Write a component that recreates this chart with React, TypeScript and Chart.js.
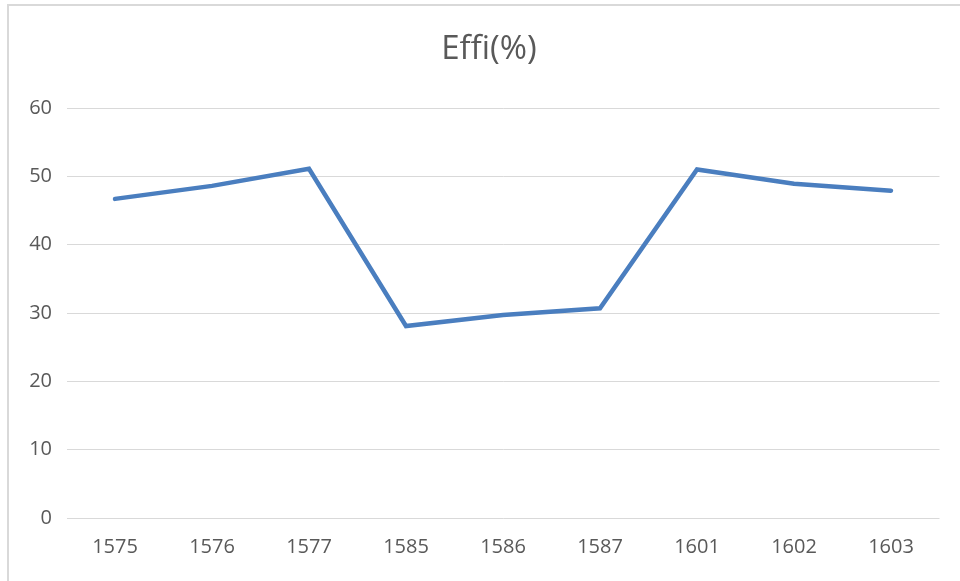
import React, { useEffect, useRef } from "react";
import { Chart, registerables } from "chart.js";

Chart.register(...registerables);

const categories = ["1575", "1576", "1577", "1585", "1586", "1587", "1601", "1602", "1603"];
const effiValues = [46.7, 48.6, 51.1, 28.1, 29.7, 30.7, 51.0, 48.9, 47.9];
const yTicks = [0, 10, 20, 30, 40, 50, 60];

const FONT = "'Open Sans', 'Noto Sans', sans-serif";

export default function App() {
  const ref = useRef<HTMLCanvasElement | null>(null);

  useEffect(() => {
    if (!ref.current) return;
    const chart = new Chart(ref.current, {
      type: "line",
      data: {
        labels: categories,
        datasets: [
          {
            label: "Effi(%)",
            data: effiValues,
            borderColor: "#4A7EBF",
            backgroundColor: "#4A7EBF",
            borderWidth: 4.5,
            pointRadius: 0,
            pointHoverRadius: 0,
            tension: 0,
            borderCapStyle: "round",
            borderJoinStyle: "miter",
            yAxisID: "y",
          },
        ],
      },
      options: {
        responsive: false,
        animation: false,
        devicePixelRatio: 1,
        layout: { padding: { left: 18, right: 0, top: 0, bottom: 0 } },
        plugins: {
          legend: { display: false },
          tooltip: { enabled: false },
          title: {
            display: true,
            text: "Effi(%)",
            color: "#595959",
            font: { family: FONT, size: 33, weight: "normal", lineHeight: 1.2 },
            padding: { top: 30.2, bottom: 38.2 },
          },
        },
        scales: {
          x: {
            type: "category",
            offset: true,
            grid: { display: false, drawTicks: false },
            border: { display: false },
            ticks: {
              color: "#595959",
              font: { family: FONT, size: 20 },
              padding: 17,
              maxRotation: 0,
              autoSkip: false,
            },
            afterFit: (scale: any) => {
              scale.height = 63;
            },
          },
          y: {
            position: "left",
            min: 0,
            max: 60,
            afterBuildTicks: (scale: any) => {
              scale.ticks = yTicks.map((v) => ({ value: v }));
            },
            grid: { color: "#D9D9D9", lineWidth: 1, drawTicks: false },
            border: { display: false },
            ticks: {
              color: "#595959",
              font: { family: FONT, size: 20 },
              padding: 14.5,
            },
            afterFit: (scale: any) => {
              scale.width = 48.5;
            },
          },
          yRightSpacer: {
            position: "right",
            min: 0,
            max: 60,
            grid: { display: false, drawTicks: false },
            border: { display: false },
            ticks: { display: false },
            afterFit: (scale: any) => {
              scale.width = 20.5;
            },
          },
        },
      },
    });
    return () => chart.destroy();
  }, []);

  return (
    <div style={{ position: "absolute", left: 0, top: 0, width: 960, height: 581, background: "#fff" }}>
      <div
        style={{
          position: "absolute",
          left: 7,
          top: 4,
          right: 0,
          bottom: 0,
          borderLeft: "2px solid #D9D9D9",
          borderTop: "2px solid #D9D9D9",
        }}
      />
      <canvas ref={ref} width={960} height={581} style={{ position: "absolute", left: 0, top: 0 }} />
    </div>
  );
}
